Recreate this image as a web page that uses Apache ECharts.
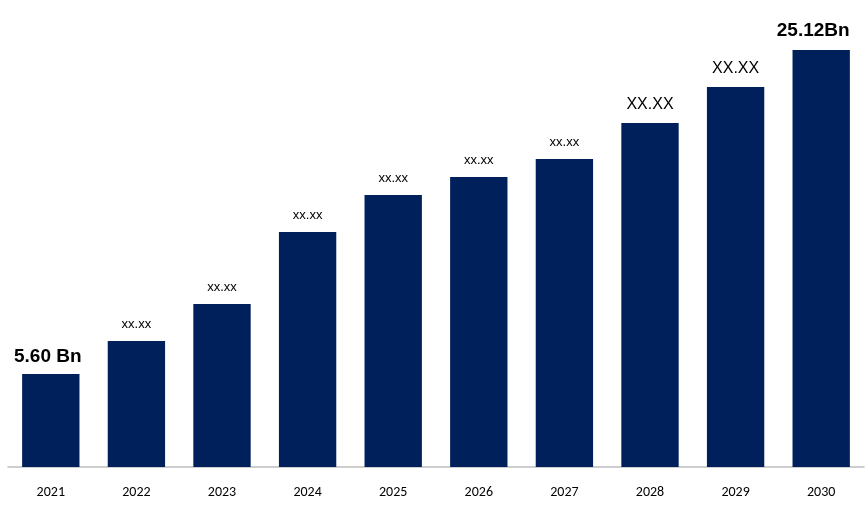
<!DOCTYPE html>
<html><head><meta charset="utf-8">
<script src="https://cdn.jsdelivr.net/npm/echarts@6/dist/echarts.min.js"></script>
<style>html,body{margin:0;padding:0;background:#fff}#c{width:868px;height:508px}</style>
</head><body><div id="c"></div>
<script>
const categories=['2021','2022','2023','2024','2025','2026','2027','2028','2029','2030'];
const values=[5.60,7.59,9.82,14.16,16.39,17.47,18.55,20.72,22.89,25.12];
const labels=['5.60 Bn','xx.xx','xx.xx','xx.xx','xx.xx','xx.xx','xx.xx','XX.XX','XX.XX','25.12Bn'];
const styleFor=i=>{
  if(i===0||i===9) return {fontSize:19,fontWeight:'bold',color:'#000'};
  if(i>=7) return {fontSize:16,color:'#000'};
  return {fontSize:13,color:'#000'};
};
const chart=echarts.init(document.getElementById('c'));
chart.setOption({
  animation:false,
  grid:{left:8,right:4,top:50,bottom:41},
  xAxis:{type:'category',data:categories,axisTick:{show:false},
    axisLine:{lineStyle:{color:'#bfbfbf',width:1.5}},
    axisLabel:{color:'#000',fontSize:14,margin:18,fontFamily:'Calibri, Carlito, Liberation Sans, sans-serif'}},
  yAxis:{type:'value',min:0,max:25.12,show:false,splitLine:{show:false}},
  series:[{type:'bar',barWidth:'67%',itemStyle:{color:'#00205b'},
    data:values.map((v,i)=>({value:v,label:{show:true,position:'top',distance:i===0?8:10,
      offset:i===0?[-3,0]:(i===9?[-8,0]:[0,0]),
      formatter:labels[i],fontFamily:'Liberation Sans, Arial, sans-serif',...styleFor(i)}}))}]
});
</script></body></html>
